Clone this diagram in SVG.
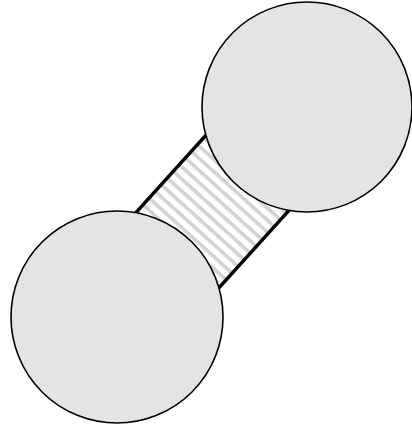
<svg xmlns="http://www.w3.org/2000/svg" width="412" height="426" viewBox="0 0 412 426">
  <style>
    .node { fill: #e4e4e4; stroke: #000; stroke-width: 1.6; }
    .edge { stroke: #000; stroke-width: 3.5; fill: none; }
  </style>
  <defs>
    <pattern id="hatch" patternUnits="userSpaceOnUse" width="9" height="9" patternTransform="rotate(42.14)">
      <rect x="0" y="0" width="9" height="9" fill="#ffffff"/>
      <rect x="0" y="0" width="9" height="3.6" fill="#d2d2d2"/>
    </pattern>
  </defs>
  <rect width="412" height="426" fill="#ffffff"/>
  <g id="connectors">
    <polygon points="75.5,279.4 265.5,69.4 348.5,144.6 158.5,354.6" fill="url(#hatch)"/>
    <line class="edge" x1="75.5" y1="279.4" x2="265.5" y2="69.4"/>
    <line class="edge" x1="158.5" y1="354.6" x2="348.5" y2="144.6"/>
  </g>
  <g id="node-top">
    <circle class="node" cx="307" cy="107" r="105"/>
  </g>
  <g id="node-bottom">
    <circle class="node" cx="117" cy="317" r="106"/>
  </g>
</svg>
